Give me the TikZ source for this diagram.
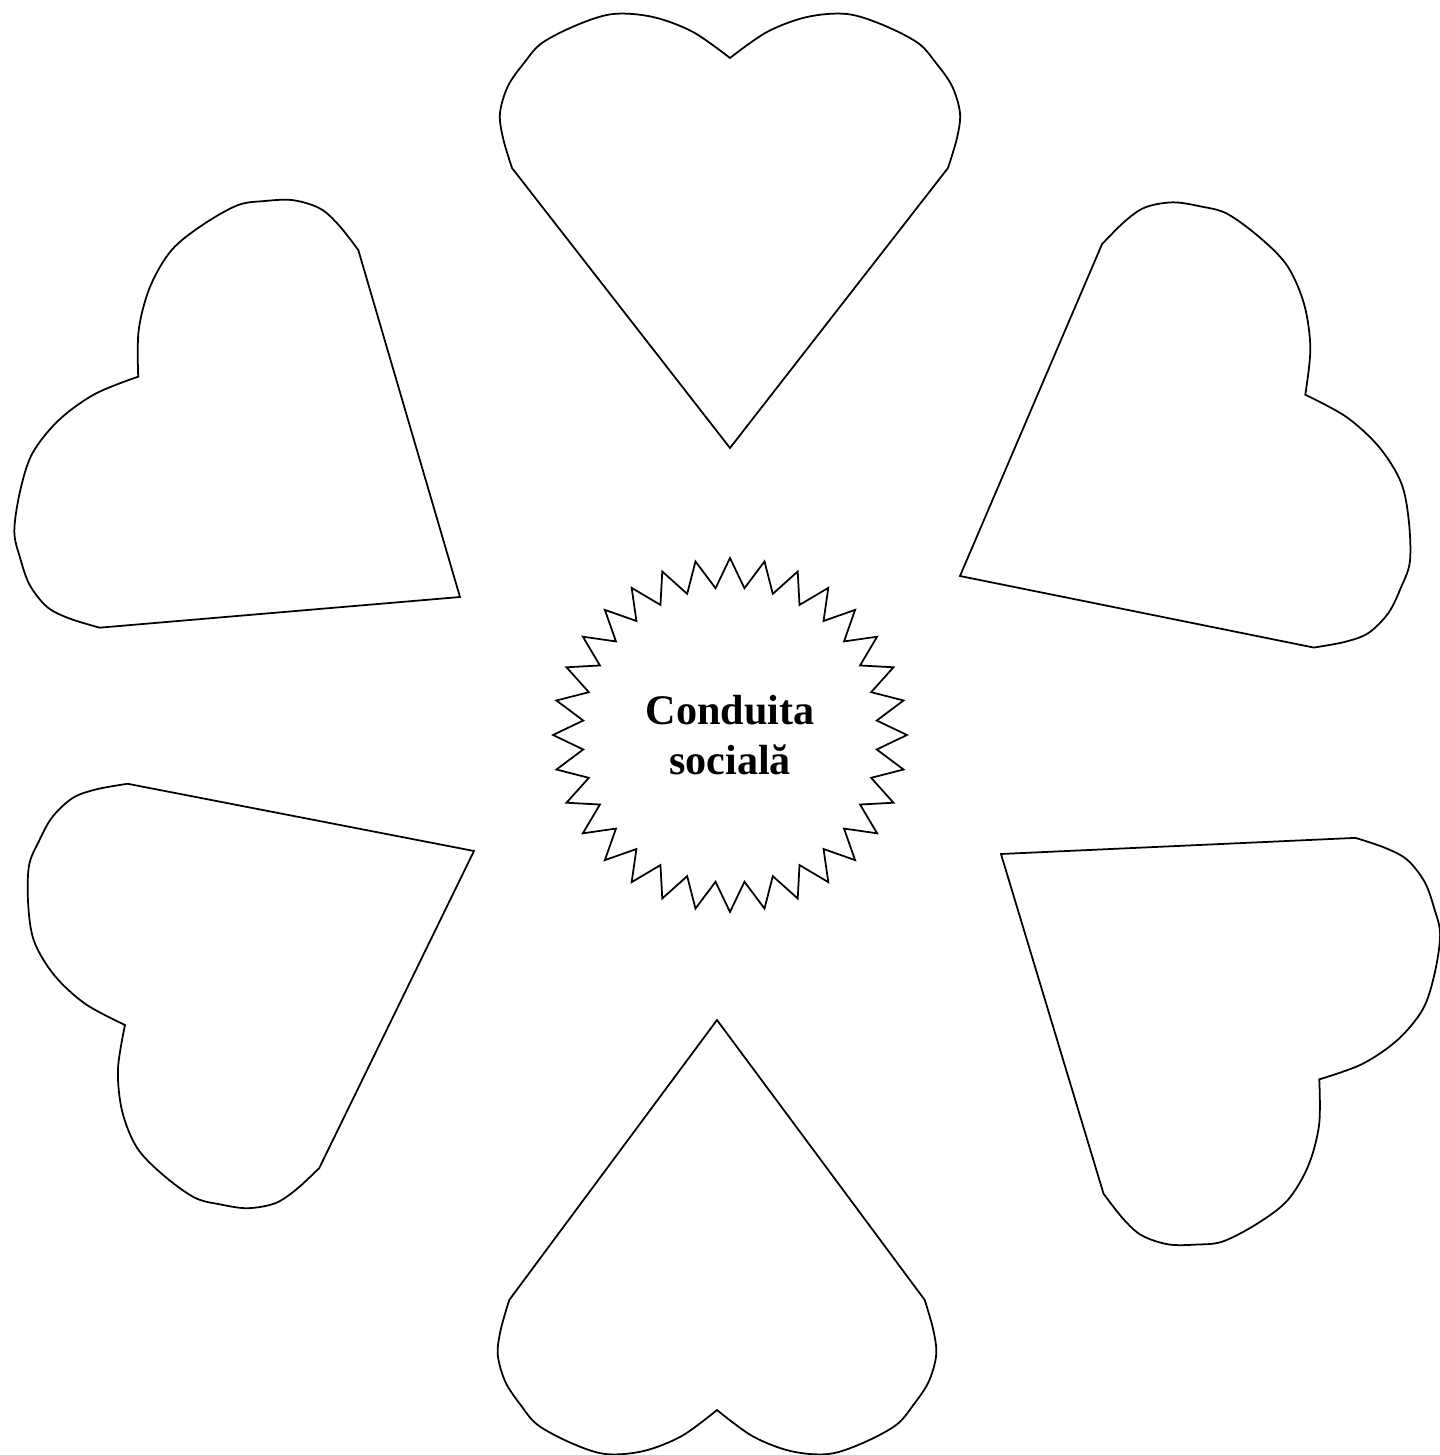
\documentclass[tikz,border=0pt]{standalone}
\usepackage{fontspec}
\setmainfont{Liberation Serif}
\usetikzlibrary{shapes.geometric}

\begin{document}
\begin{tikzpicture}[
  x=0.02cm,y=0.02cm,
  outline/.style={draw=black,line width=1pt},
  burst/.style={star,star points=32,star point ratio=1.2,minimum size=7.08cm,draw=black,line width=1pt,inner sep=2pt,align=center,font=\fontsize{24}{28.5}\selectfont\bfseries},
  heart/.pic={
    \draw[outline] (0,0)
      -- plot[smooth,tension=0.55] coordinates {(218,280) (227,310) (230,335) (222,362) (206,385) (188,405) (153,423) (117,434) (77,431) (37,416) (0,390)}
      -- plot[smooth,tension=0.55] coordinates {(0,390) (-37,416) (-77,431) (-117,434) (-153,423) (-188,405) (-206,385) (-222,362) (-230,335) (-227,310) (-218,280)}
      -- cycle;
  }
]
\useasboundingbox (-730,-720) rectangle (710,735);

\node[burst] (core) at (0,0) {Conduita\\socială};

% hearts: tip position / turn / width
\foreach \tx/\ty/\turn/\wide in {0/287/0/1, 230/159/-62.3/1.045, 271/-119/-125.3/1, -13/-285/180/0.953, -256/-116/116.5/0.985, -270/138/55.6/1.05}
  \pic[rotate=\turn,xscale=\wide] at (\tx,\ty) {heart};
\end{tikzpicture}
\end{document}
